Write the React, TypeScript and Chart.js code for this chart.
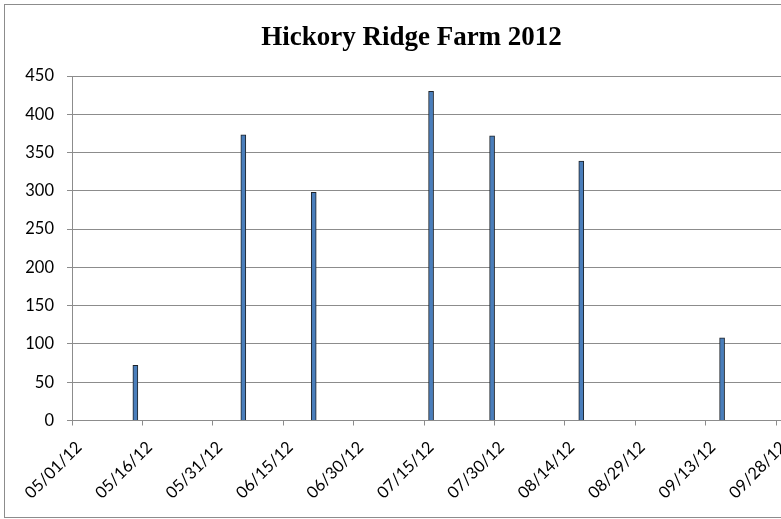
import React, { useEffect, useRef } from "react";
import { Chart, registerables } from "chart.js";

Chart.register(...registerables);

// ---- data ----
const chartTitle = "Hickory Ridge Farm 2012";
const axisStartDate = "2012-05-01";
const harvestDates = [
  "2012-05-14",
  "2012-06-06",
  "2012-06-21",
  "2012-07-16",
  "2012-07-29",
  "2012-08-17",
  "2012-09-16",
];
const harvestValues = [72, 373, 298, 430, 372, 339, 108];
const xTickLabels = [
  "05/01/12",
  "05/16/12",
  "05/31/12",
  "06/15/12",
  "06/30/12",
  "07/15/12",
  "07/30/12",
  "08/14/12",
  "08/29/12",
  "09/13/12",
  "09/28/12",
];
const xTickStepDays = 15;
const yMin = 0;
const yMax = 450;
const yStep = 50;

const DAY_MS = 86400000;
const dayOffset = (d: string) =>
  Math.round((new Date(d).getTime() - new Date(axisStartDate).getTime()) / DAY_MS);

const GRID = "#8c8c8c";
const LABEL_FONT = { family: "Lato", size: 16.5 };

const framePlugin = {
  id: "frame",
  beforeDraw(chart: any) {
    const ctx = chart.ctx;
    ctx.save();
    ctx.fillStyle = "#ffffff";
    ctx.fillRect(0, 0, chart.width, chart.height);
    ctx.strokeStyle = GRID;
    ctx.lineWidth = 1;
    ctx.strokeRect(4.5, 4.5, chart.width + 40, 513);
    ctx.restore();
  },
};

export default function App() {
  const ref = useRef<HTMLCanvasElement | null>(null);

  useEffect(() => {
    if (!ref.current) return;
    const points = harvestDates.map((d, i) => ({
      x: dayOffset(d) + 0.5,
      y: harvestValues[i],
    }));
    const chart = new Chart(ref.current, {
      type: "bar",
      data: {
        datasets: [
          {
            data: points as any,
            backgroundColor: "#4a7ebb",
            borderColor: "#1e2329",
            borderWidth: 1,
            barThickness: 5,
          },
        ],
      },
      plugins: [framePlugin],
      options: {
        responsive: false,
        animation: false,
        devicePixelRatio: 1,
        layout: { padding: 0 },
        plugins: {
          legend: { display: false },
          tooltip: { enabled: false },
          title: {
            display: true,
            text: chartTitle,
            color: "#000",
            font: { family: "Liberation Serif", size: 27, weight: "bold" },
            padding: { top: 22, bottom: 21.6 },
          },
        },
        scales: {
          x: {
            type: "linear",
            min: 0,
            max: 160,
            offset: false,
            grid: {
              offset: false,
              drawOnChartArea: false,
              drawTicks: true,
              tickLength: 5,
              color: GRID,
            },
            border: { display: true, color: GRID },
            afterBuildTicks(scale: any) {
              scale.ticks = xTickLabels.map((_, i) => ({ value: i * xTickStepDays }));
            },
            afterFit(scale: any) {
              scale.height = 98.5;
              scale.paddingLeft = 0;
              scale.paddingRight = 0;
            },
            ticks: {
              autoSkip: false,
              minRotation: 45,
              maxRotation: 45,
              color: "#000",
              font: LABEL_FONT,
              padding: 12,
              labelOffset: 7,
              callback: (v: any) => xTickLabels[Math.round(Number(v) / xTickStepDays)] ?? "",
            },
          },
          y: {
            min: yMin,
            max: yMax,
            grid: {
              drawOnChartArea: true,
              drawTicks: true,
              tickLength: 5,
              color: GRID,
            },
            border: { display: true, color: GRID },
            afterFit(scale: any) {
              scale.width = 72;
            },
            ticks: {
              stepSize: yStep,
              color: "#000",
              font: LABEL_FONT,
              padding: 13,
            },
          },
        },
      } as any,
    });
    return () => chart.destroy();
  }, []);

  return (
    <div
      style={{
        position: "fixed",
        left: 0,
        top: 0,
        width: 781,
        height: 519,
        overflow: "hidden",
        background: "#fff",
      }}
    >
      <canvas ref={ref} width={823} height={519} style={{ display: "block" }} />
    </div>
  );
}
